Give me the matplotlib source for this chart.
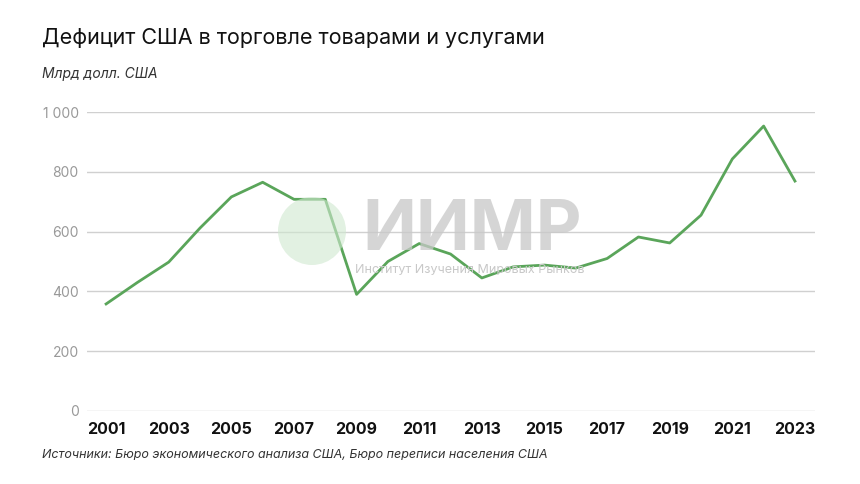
import matplotlib.pyplot as plt
from matplotlib.patches import Ellipse

years = list(range(2001, 2024))
deficit = [358, 430, 498, 612, 716, 765, 708, 708, 390, 500, 560, 525, 445,
           482, 488, 478, 510, 582, 562, 655, 843, 953, 769]
yticks = [0, 200, 400, 600, 800, 1000]
ytick_labels = ['0', '200', '400', '600', '800', '1 000']
xticks = list(range(2001, 2024, 2))

plt.rcParams['font.family'] = ['Inter', 'DejaVu Sans']

fig = plt.figure(figsize=(8.6, 4.84), dpi=100)
ax = fig.add_axes([87/860, 1-411/484, 728/860, 299/484])

for yv in yticks:
    ax.axhline(yv, color='#d0d0d0', lw=1, zorder=1)

# watermark
fig.patches.append(Ellipse((312/860, 1-231/484), 68/860, 68/484, transform=fig.transFigure,
                           facecolor='#cfe8cf', alpha=0.6, edgecolor='none', zorder=0))
fig.text(472/860, 1-231/484, 'ИИМР', fontsize=51, fontweight='bold', color='#c8c8c8',
         alpha=0.75, ha='center', va='center', zorder=0)
fig.text(470/860, 1-270/484, 'Институт Изучения Мировых Рынков', fontsize=9,
         color='#c8c8c8', ha='center', va='center', zorder=0)

ax.plot(years, deficit, color='#5aa55a', lw=2, zorder=3)

ax.set_xlim(2000.39, 2023.64)
ax.set_ylim(0, 1000)
ax.set_facecolor('none')
for s in ax.spines.values():
    s.set_visible(False)
ax.set_yticks(yticks)
ax.set_yticklabels(ytick_labels, color='#999999', fontsize=10)
ax.set_xticks(xticks)
ax.set_xticklabels([str(x) for x in xticks], fontweight='bold', fontsize=11.5, color='#111111')
ax.tick_params(axis='both', length=0)
ax.tick_params(axis='y', pad=6)
ax.tick_params(axis='x', pad=8)

fig.text(42/860, 1-38/484, 'Дефицит США в торговле товарами и услугами', fontsize=15.5,
         ha='left', va='center', color='#111111')
fig.text(42/860, 1-74/484, 'Млрд долл. США', fontsize=10, style='italic',
         ha='left', va='center', color='#333333')
fig.text(42/860, 1-455/484, 'Источники: Бюро экономического анализа США, Бюро переписи населения США',
         fontsize=9, style='italic', ha='left', va='center', color='#333333')

fig.savefig('out.png', dpi=100)
